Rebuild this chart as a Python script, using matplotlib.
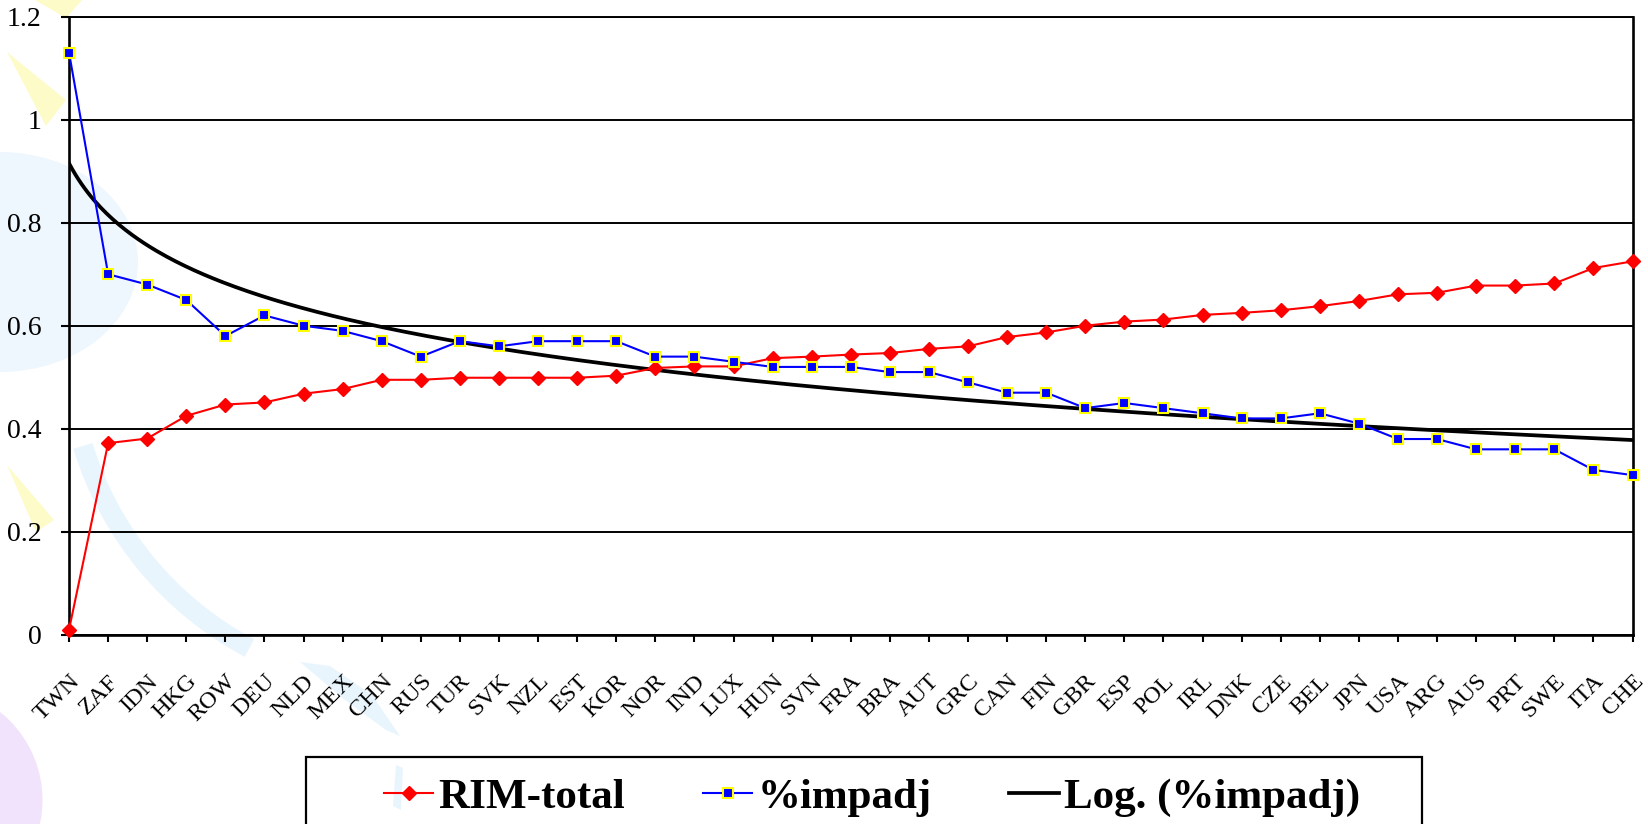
import numpy as np
import matplotlib.pyplot as plt
from matplotlib.patches import Polygon, Wedge, Ellipse, Rectangle

countries = ['TWN', 'ZAF', 'IDN', 'HKG', 'ROW', 'DEU', 'NLD', 'MEX', 'CHN', 'RUS',
             'TUR', 'SVK', 'NZL', 'EST', 'KOR', 'NOR', 'IND', 'LUX', 'HUN', 'SVN',
             'FRA', 'BRA', 'AUT', 'GRC', 'CAN', 'FIN', 'GBR', 'ESP', 'POL', 'IRL',
             'DNK', 'CZE', 'BEL', 'JPN', 'USA', 'ARG', 'AUS', 'PRT', 'SWE', 'ITA', 'CHE']

rim_total = [0.01, 0.372, 0.381, 0.425, 0.447, 0.451, 0.468, 0.477, 0.495, 0.495,
             0.499, 0.499, 0.499, 0.499, 0.503, 0.518, 0.521, 0.521, 0.537, 0.540,
             0.544, 0.547, 0.555, 0.560, 0.578, 0.587, 0.600, 0.608, 0.612, 0.621,
             0.625, 0.630, 0.638, 0.648, 0.661, 0.664, 0.678, 0.678, 0.682, 0.712, 0.725]

impadj = [1.13, 0.70, 0.68, 0.65, 0.58, 0.62, 0.60, 0.59, 0.57, 0.54,
          0.57, 0.56, 0.57, 0.57, 0.57, 0.54, 0.54, 0.53, 0.52, 0.52,
          0.52, 0.51, 0.51, 0.49, 0.47, 0.47, 0.44, 0.45, 0.44, 0.43,
          0.42, 0.42, 0.43, 0.41, 0.38, 0.38, 0.36, 0.36, 0.36, 0.32, 0.31]

yticks = [0, 0.2, 0.4, 0.6, 0.8, 1.0, 1.2]
ytick_labels = ['0', '0.2', '0.4', '0.6', '0.8', '1', '1.2']

plt.rcParams['font.family'] = ['Liberation Serif', 'DejaVu Serif']

fig = plt.figure(figsize=(16.48, 8.24), dpi=100)

# pale slide decorations behind the chart (pixel space, y down)
bg = fig.add_axes([0, 0, 1, 1], zorder=0)
bg.set_xlim(0, 1648)
bg.set_ylim(824, 0)
bg.axis('off')
yellow = '#fdfbc8'
pale_blue = '#e9f5fd'
bg.add_patch(Polygon([(35, 0), (82, 0), (66, 18)], closed=True, color=yellow, lw=0))
bg.add_patch(Polygon([(7, 52), (66, 100), (46, 126)], closed=True, color=yellow, lw=0))
bg.add_patch(Polygon([(7, 465), (54, 520), (36, 532)], closed=True, color=yellow, lw=0))
bg.add_patch(Ellipse((0, 262), 276, 220, color='#eff7fe', lw=0))
bg.add_patch(Wedge((410, 346), 352, 118, 163, width=20, color=pale_blue, lw=0))
bg.add_patch(Polygon([(300, 662), (330, 666), (372, 695), (400, 736), (386, 730), (345, 700)],
                     closed=True, color=pale_blue, lw=0))
bg.add_patch(Polygon([(396, 765), (403, 768), (401, 810), (393, 806)], closed=True,
                     color=pale_blue, lw=0))
bg.add_patch(Ellipse((-70, 800), 225, 225, color='#f1e3fb', lw=0))

ax = fig.add_axes([0.0419, 0.2297, 0.9487, 0.75], zorder=1)
ax.patch.set_alpha(0)

x = np.arange(len(countries))

# logarithmic trend of %impadj over positions 1..n
coef = np.polyfit(np.log(x + 1), impadj, 1)
xs = np.linspace(0, len(countries) - 1, 500)
trend, = ax.plot(xs, coef[0] * np.log(xs + 1) + coef[1], color='black', lw=2.7, zorder=3)

rim, = ax.plot(x, rim_total, color='#ff0000', lw=1.5, marker='D', ms=7,
               clip_on=False, zorder=4)
imp, = ax.plot(x, impadj, color='#0000ff', lw=1.5, marker='s', ms=7.8,
               mfc='#0000ff', mec='#ffff00', mew=1.5, clip_on=False, zorder=5)

ax.set_xlim(0, len(countries) - 1)
ax.set_ylim(0, 1.2)
ax.set_yticks(yticks)
ax.set_yticklabels(ytick_labels)
ax.set_xticks(x)
ax.set_xticklabels(countries, rotation=45, ha='right', va='top', rotation_mode='anchor')

ax.grid(axis='y', color='black', lw=1.4)
ax.set_axisbelow(True)
for side in ['left', 'bottom', 'right']:
    ax.spines[side].set_linewidth(1.9)
ax.spines['top'].set_linewidth(1.4)

ax.tick_params(axis='x', length=5, width=1.5, pad=21, labelsize=17.5)
ax.tick_params(axis='y', length=6, width=1.5, pad=14, labelsize=20)

fig.add_artist(Rectangle((306 / 1648, -0.05), 1116 / 1648, (824 - 757) / 824 + 0.05,
                         transform=fig.transFigure, fill=False, lw=1.6, ec='black'))
fig.legend([rim, imp, trend], ['RIM-total', '%impadj', 'Log. (%impadj)'],
           loc='upper center', bbox_to_anchor=(872 / 1648, 1 - 752 / 824), ncol=3,
           frameon=False, prop=dict(family='Liberation Serif', weight='bold', size=31),
           handlelength=1.15, handletextpad=0.12, columnspacing=1.8, borderpad=0.1)

fig.savefig('out.png', dpi=100)
